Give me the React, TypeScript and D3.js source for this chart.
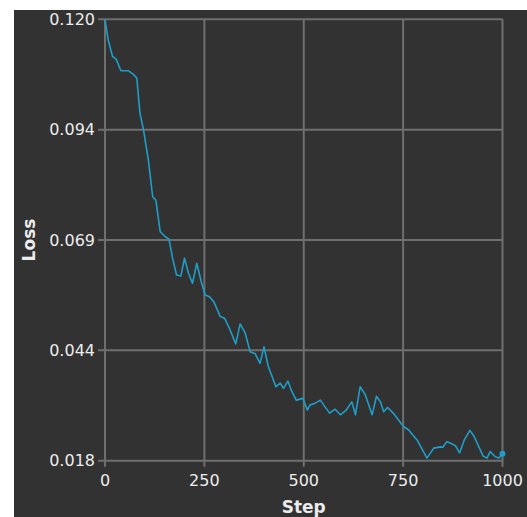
import React from "react";
import * as d3 from "d3";

const steps = [0, 8, 19, 28, 40, 59, 70, 80, 88, 97, 109, 120, 128, 139, 151, 161, 170, 180, 191, 200, 210, 220, 231, 242, 252, 263, 274, 290, 301, 311, 329, 340, 353, 365, 378, 390, 400, 411, 430, 441, 449, 460, 470, 481, 498, 509, 516, 529, 542, 550, 565, 579, 592, 607, 621, 630, 642, 655, 672, 683, 693, 701, 711, 725, 751, 764, 785, 810, 827, 844, 850, 860, 873, 882, 892, 904, 918, 928, 951, 961, 969, 982, 991, 1000];
const losses = [0.1200, 0.1152, 0.1114, 0.1108, 0.1081, 0.1081, 0.1074, 0.1064, 0.0983, 0.0944, 0.0875, 0.0790, 0.0782, 0.0709, 0.0698, 0.0692, 0.0648, 0.0609, 0.0607, 0.0648, 0.0613, 0.0590, 0.0636, 0.0594, 0.0563, 0.0559, 0.0547, 0.0513, 0.0509, 0.0490, 0.0450, 0.0496, 0.0474, 0.0432, 0.0427, 0.0405, 0.0443, 0.0397, 0.0351, 0.0359, 0.0347, 0.0364, 0.0340, 0.0320, 0.0324, 0.0297, 0.0309, 0.0313, 0.0320, 0.0309, 0.0290, 0.0299, 0.0286, 0.0297, 0.0316, 0.0286, 0.0351, 0.0332, 0.0286, 0.0329, 0.0316, 0.0293, 0.0303, 0.0290, 0.0259, 0.0251, 0.0228, 0.0186, 0.0209, 0.0212, 0.0211, 0.0224, 0.0219, 0.0214, 0.0198, 0.0228, 0.0250, 0.0237, 0.0191, 0.0186, 0.0201, 0.0189, 0.0186, 0.0196];

const xTicks = [0, 250, 500, 750, 1000];
const yTickValues = [0.018, 0.0435, 0.069, 0.0945, 0.12];
const yTickLabels = ["0.018", "0.044", "0.069", "0.094", "0.120"];
const xTitle = "Step";
const yTitle = "Loss";

const W = 527;
const H = 517;
const plot = { left: 105, right: 502.5, top: 19.3, bottom: 460.7 };

export default function App() {
  const x = d3.scaleLinear().domain([0, 1000]).range([plot.left, plot.right]);
  const y = d3.scaleLinear().domain([0.018, 0.12]).range([plot.bottom, plot.top]);
  const data = steps.map((s, i) => [s, losses[i]] as [number, number]);
  const line = d3
    .line<[number, number]>()
    .x((d) => x(d[0]))
    .y((d) => y(d[1]));
  const last = data[data.length - 1];
  const gridColor = "#6f6f6f";
  const textColor = "#ececec";
  const font = "'DejaVu Sans', Verdana, sans-serif";

  return (
    <svg
      width={W}
      height={H}
      style={{ position: "absolute", left: 0, top: 0, display: "block" }}
    >
      <rect x={0} y={0} width={W} height={H} fill="#ffffff" />
      <rect x={14} y={10} width={W - 14} height={H - 10} fill="#323232" />
      {xTicks.map((t) => (
        <g key={"x" + t}>
          <line x1={x(t)} x2={x(t)} y1={plot.top} y2={plot.bottom + 6} stroke={gridColor} strokeWidth={2} />
          <text
            x={x(t)}
            y={486}
            textAnchor="middle"
            fill={textColor}
            fontFamily={font}
            fontSize={16}
          >
            {t}
          </text>
        </g>
      ))}
      {yTickValues.map((v, i) => (
        <g key={"y" + i}>
          <line x1={plot.left - 7} x2={plot.right} y1={y(v)} y2={y(v)} stroke={gridColor} strokeWidth={2} />
          <text
            x={95}
            y={y(v)}
            dy="0.35em"
            textAnchor="end"
            fill={textColor}
            fontFamily={font}
            fontSize={16}
          >
            {yTickLabels[i]}
          </text>
        </g>
      ))}
      <path d={line(data) || ""} fill="none" stroke="#1e9ec9" strokeWidth={1.6} strokeLinejoin="round" />
      <circle cx={x(last[0])} cy={y(last[1])} r={3} fill="#1e9ec9" />
      <text
        x={(plot.left + plot.right) / 2}
        y={513}
        textAnchor="middle"
        fill={textColor}
        fontFamily={font}
        fontWeight="bold"
        fontSize={17}
      >
        {xTitle}
      </text>
      <text
        transform={`translate(35, 240) rotate(-90)`}
        textAnchor="middle"
        fill={textColor}
        fontFamily={font}
        fontWeight="bold"
        fontSize={17}
      >
        {yTitle}
      </text>
    </svg>
  );
}
